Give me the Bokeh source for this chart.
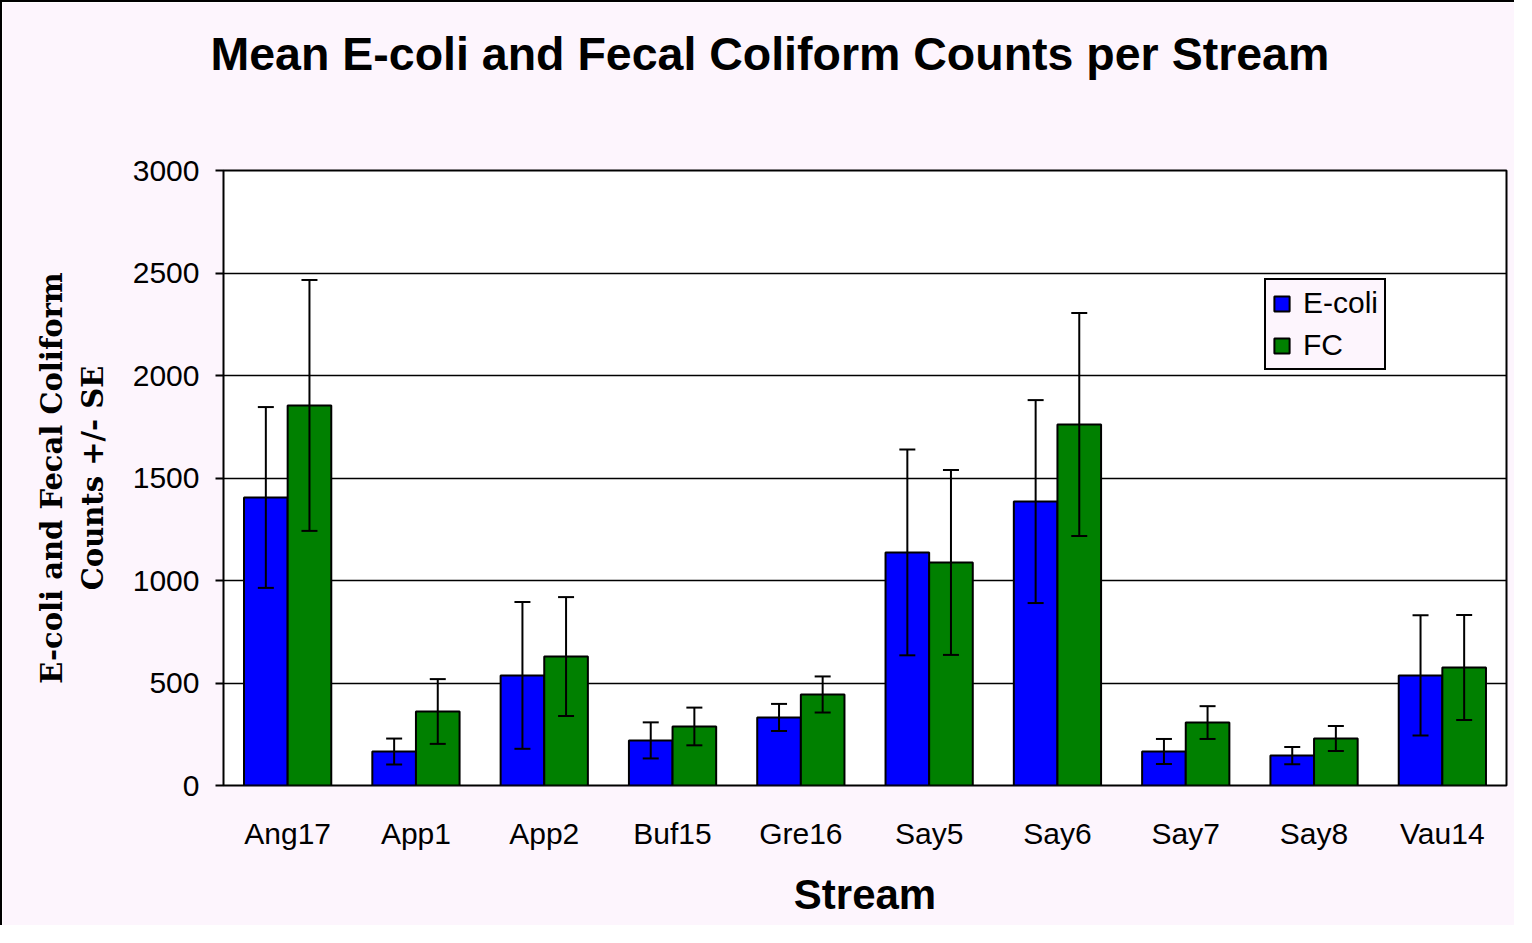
from bokeh.plotting import figure
from bokeh.models import ColumnDataSource, FactorRange, Range1d, Whisker, TeeHead, SingleIntervalTicker
from bokeh.transform import dodge
from bokeh.embed import file_html
from bokeh.resources import INLINE

streams = ["Ang17", "App1", "App2", "Buf15", "Gre16", "Say5", "Say6", "Say7", "Say8", "Vau14"]
ecoli = [1405, 166, 537, 220, 332, 1137, 1385, 166, 146, 537]
ecoli_se = [441, 63, 358, 88, 66, 502, 495, 61, 42, 293]
fc = [1854, 361, 629, 288, 444, 1088, 1761, 307, 229, 576]
fc_se = [612, 158, 290, 92, 88, 451, 544, 80, 61, 256]

title_text = "Mean E-coli and Fecal Coliform Counts per Stream"
ylabel = "E-coli and Fecal Coliform\nCounts +/- SE"
xlabel = "Stream"

PINK = "#FDF5FD"

src = ColumnDataSource(dict(
    stream=streams,
    ecoli=ecoli,
    fc=fc,
    e_up=[m + s for m, s in zip(ecoli, ecoli_se)],
    e_lo=[m - s for m, s in zip(ecoli, ecoli_se)],
    f_up=[m + s for m, s in zip(fc, fc_se)],
    f_lo=[m - s for m, s in zip(fc, fc_se)],
))

p = figure(x_range=FactorRange(*streams, range_padding=0), y_range=Range1d(0, 3000),
           width=1514, height=925, output_backend="svg", toolbar_location=None,
           min_border_left=221, min_border_right=10, min_border_top=168, min_border_bottom=142,
           title=title_text + "\n ")
p.styles = {"border-left": "2px solid #000", "border-top": "2px solid #000"}

p.background_fill_color = "white"
p.border_fill_color = PINK
p.outline_line_color = "black"
p.outline_line_width = 2

# title (a trailing blank line lifts the visible line above the frame)
p.title.align = "left"
p.title.offset = -13
p.title.standoff = 46
p.title.text_line_height = 1.3
p.title.text_font = "Liberation Sans"
p.title.text_font_style = "bold"
p.title.text_font_size = "46.5px"
p.title.text_color = "black"

bw = 0.34
p.vbar(x=dodge("stream", -bw / 2, range=p.x_range), top="ecoli", width=bw, source=src,
       fill_color="#0000FF", line_color="black", line_width=2, legend_label="E-coli")
p.vbar(x=dodge("stream", bw / 2, range=p.x_range), top="fc", width=bw, source=src,
       fill_color="#008000", line_color="black", line_width=2, legend_label="FC")

for off, up, lo in [(-bw / 2, "e_up", "e_lo"), (bw / 2, "f_up", "f_lo")]:
    w = Whisker(base=dodge("stream", off, range=p.x_range), upper=up, lower=lo, source=src,
                line_color="black", line_width=2, level="overlay",
                upper_head=TeeHead(size=16, line_width=2, line_color="black"),
                lower_head=TeeHead(size=16, line_width=2, line_color="black"))
    p.add_layout(w)

# grid
p.xgrid.grid_line_color = None
p.ygrid.grid_line_color = "black"
p.ygrid.grid_line_width = 1.5
p.yaxis.ticker = SingleIntervalTicker(interval=500)

# axes
for ax in (p.xaxis[0], p.yaxis[0]):
    ax.axis_line_color = None
    ax.minor_tick_line_color = None
    ax.major_label_text_font = "Liberation Sans"
    ax.major_label_text_font_size = "30px"
    ax.major_label_text_color = "black"
    ax.axis_label_text_color = "black"
    ax.axis_label_text_font_style = "bold"
p.xaxis.major_tick_line_color = None
p.xaxis.major_label_standoff = 25
p.xaxis.axis_label = xlabel
p.xaxis.axis_label_text_font = "Liberation Sans"
p.xaxis.axis_label_text_font_size = "42px"
p.xaxis.axis_label_standoff = 18

p.yaxis.major_tick_in = 0
p.yaxis.major_tick_out = 8
p.yaxis.major_tick_line_width = 2
p.yaxis.major_tick_line_color = "black"
p.yaxis.major_label_standoff = 16
p.yaxis.axis_label = ylabel
p.yaxis.axis_label_text_font = "DejaVu Serif"
p.yaxis.axis_label_text_font_size = "29px"
p.yaxis.axis_label_text_line_height = 1.2
p.yaxis.axis_label_standoff = 20

# legend
lg = p.legend[0]
lg.location = (1041, 415)
lg.label_text_font = "Liberation Sans"
lg.label_text_font_size = "30px"
lg.label_text_color = "black"
lg.glyph_width = 19
lg.glyph_height = 19
lg.label_height = 32
lg.spacing = 8
lg.padding = 6
lg.margin = 0
lg.label_standoff = 12
lg.border_line_color = "black"
lg.border_line_alpha = 1
lg.border_line_width = 2
lg.background_fill_color = PINK
lg.background_fill_alpha = 1

open("out.html", "w").write(file_html(p, INLINE))
